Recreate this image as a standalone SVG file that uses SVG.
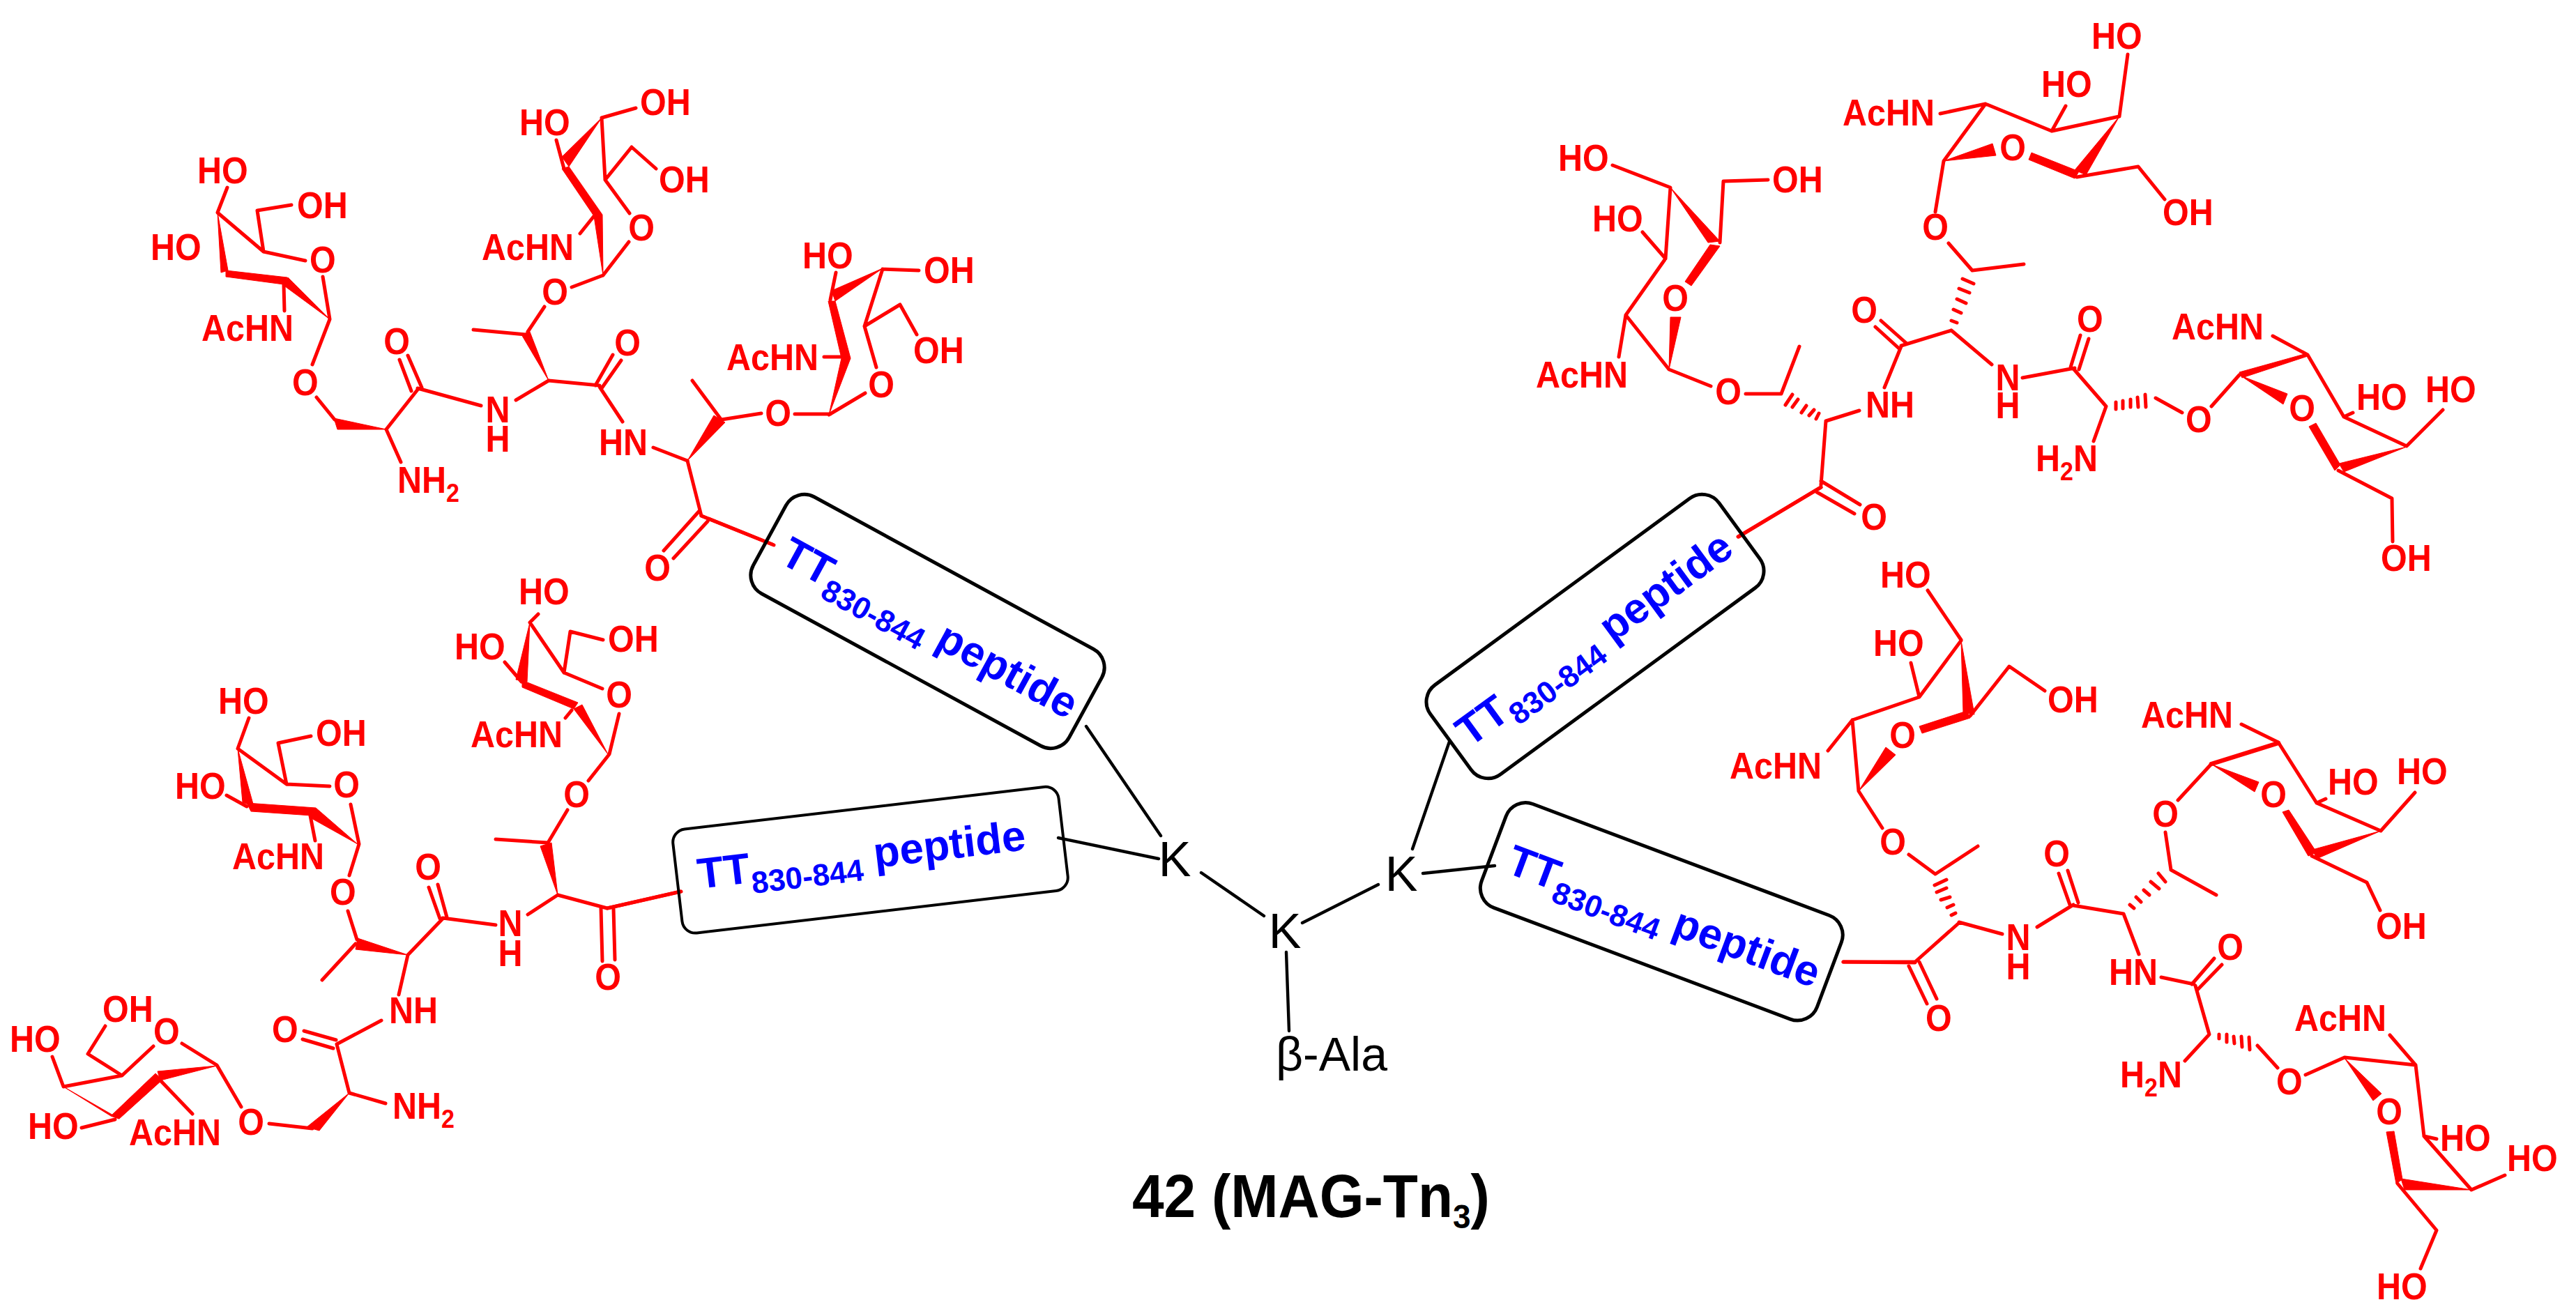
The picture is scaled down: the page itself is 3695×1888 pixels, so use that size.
<svg xmlns="http://www.w3.org/2000/svg" width="3695" height="1888" viewBox="0 0 3695 1888">
<style>
text{font-family:"Liberation Sans",Arial,sans-serif}
.b{fill:none;stroke:#f00;stroke-width:5;stroke-linecap:round;stroke-linejoin:round}
.w{fill:#f00;stroke:#f00;stroke-width:1;stroke-linejoin:round}
.t{fill:#f00;font-weight:700;font-size:48.5px;transform-box:fill-box;transform-origin:0 100%;transform:scaleY(1.1)}
.m{text-anchor:middle}
.box{fill:none;stroke:#000;stroke-width:5}
.pep{fill:#00f;font-weight:700;font-size:61.7px}
.sub{font-size:44px}
.s2{font-size:34px}
.c{fill:none;stroke:#000;stroke-width:4.4;stroke-linecap:round}
.cr{fill:none;stroke:#f00;stroke-width:5;stroke-linecap:round}
.k{fill:#000;font-size:70px}
</style>
<rect width="3695" height="1888" fill="#fff"/>

<g id="connectors">
<path class="c" d="M1558 1042L1665 1199M1518 1202L1662 1232M1723 1252L1813 1314M1868 1324L1977 1269M2026 1218L2079 1064M2041 1253L2144 1242M1845 1366L1849 1479"/>
</g>

<g id="glycopeptide-upper-left">
<path class="b" d="M326 269L312 305L378 361L369 302L418 294M378 361L438 374M407 408L408 446M463 397L473 458L448 523M454 570L480 602M554 616L599 559M554 616L575 663M590 561L573 516M605 556L585 510M599 557L690 582M740 574L787 546M754 480L679 473M757 476L781 440M787 546L860 553M854 553L879 509M863 557L891 517M860 555L893 605M937 642L986 661M798 201L809 242M863 169L912 155M863 169L868 258L906 211L941 242M868 258L903 306M852 310L832 335M865 395L902 347M865 395L820 412"/>
<path class="b" d="M1199 391L1191 430M1266 386L1318 388M1266 386L1240 468L1291 437L1315 480M1240 468L1257 527M1182 512L1209 512M1189 595L1241 564M1140 594L1191 594M1092 593L1035 602M1033 600L993 546M986 661L1006 740M1004 732L952 790M1015 748L966 801M1006 740L1108 781"/>
<polygon class="w" points="312,305 317,391 327,388"/>
<polygon class="w" points="324,388 412,398 407,408 324,397"/>
<polygon class="w" points="473,458 413,398 405,408"/>
<polygon class="w" points="554,616 479,600 484,616"/>
<polygon class="w" points="787,546 748,480 760,476"/>
<polygon class="w" points="986,661 1024,596 1040,606"/>
<polygon class="w" points="863,169 806,225 816,239"/>
<polygon class="w" points="806,242 816,239 864,308 852,310"/>
<polygon class="w" points="865,395 852,310 864,308"/>
<polygon class="w" points="1266,385 1193,417 1198,432"/>
<polygon class="w" points="1188,432 1198,432 1220,514 1207,514"/>
<polygon class="w" points="1189,595 1207,514 1220,514"/>
<text class="t" x="283" y="264">HO</text>
<text class="t" x="426" y="314">OH</text>
<text class="t" x="216" y="374">HO</text>
<text class="t m" x="463" y="392">O</text>
<text class="t" x="289" y="490">AcHN</text>
<text class="t m" x="438" y="568">O</text>
<text class="t m" x="569" y="509">O</text>
<text class="t m" x="714" y="611">N<tspan x="714" dy="38">H</tspan></text>
<text class="t m" x="900" y="511">O</text>
<text class="t" x="859" y="654">HN</text>
<text class="t" x="570" y="709">NH<tspan class="s2" dy="12">2</tspan></text>
<text class="t" x="691" y="374">AcHN</text>
<text class="t" x="745" y="195">HO</text>
<text class="t" x="918" y="166">OH</text>
<text class="t" x="945" y="277">OH</text>
<text class="t m" x="920" y="346">O</text>
<text class="t m" x="796" y="438">O</text>
<text class="t" x="1151" y="386">HO</text>
<text class="t" x="1325" y="407">OH</text>
<text class="t" x="1310" y="522">OH</text>
<text class="t" x="1042" y="532">AcHN</text>
<text class="t m" x="1264" y="571">O</text>
<text class="t m" x="1116" y="612">O</text>
<text class="t m" x="943" y="834">O</text>
</g>

<g id="glycopeptide-lower-left">
<path class="b" d="M772 881L760 893L809 965L818 906L865 918M809 965L864 988M724 950L748 978M820 1019L811 1030M888 1024L874 1082L844 1120M814 1162L786 1209L711 1204M800 1284L757 1312M800 1284L871 1303L976 1279M862 1303L864 1379M880 1303L882 1377M357 1030L341 1074L411 1125L399 1066L446 1056M411 1125L473 1128M325 1141L354 1157M445 1170L452 1206M503 1154L515 1211L501 1256M499 1307L512 1348M510 1354L462 1406M585 1370L635 1318M585 1370L572 1427M631 1318L615 1273M641 1316L628 1269M635 1317L711 1327M547 1464L483 1498M482 1492L436 1479M478 1504L434 1491M483 1498L501 1568L553 1583M448 1619L386 1612M346 1588L311 1528L261 1497M220 1501L175 1543L126 1512L151 1472M175 1543L91 1559L75 1516M230 1550L276 1598M165 1606L117 1618"/>
<polygon class="w" points="760,893 740,975 756,978"/>
<polygon class="w" points="749,976 829,1008 823,1017 749,986"/>
<polygon class="w" points="872,1082 835,1011 823,1017"/>
<polygon class="w" points="800,1284 775,1214 791,1209"/>
<polygon class="w" points="341,1074 348,1151 364,1157"/>
<polygon class="w" points="354,1152 453,1159 447,1170 360,1164"/>
<polygon class="w" points="513,1211 453,1159 445,1173"/>
<polygon class="w" points="585,1370 513,1346 510,1362"/>
<polygon class="w" points="501,1568 440,1617 458,1622"/>
<polygon class="w" points="311,1529 226,1537 230,1550"/>
<polygon class="w" points="223,1540 233,1549 171,1605 159,1601"/>
<polygon class="w" points="91,1559 159,1601 171,1605"/>
<text class="t" x="744" y="868">HO</text>
<text class="t" x="652" y="947">HO</text>
<text class="t" x="872" y="936">OH</text>
<text class="t m" x="888" y="1016">O</text>
<text class="t" x="675" y="1073">AcHN</text>
<text class="t m" x="827" y="1159">O</text>
<text class="t" x="313" y="1025">HO</text>
<text class="t" x="453" y="1071">OH</text>
<text class="t" x="251" y="1147">HO</text>
<text class="t m" x="497" y="1145">O</text>
<text class="t" x="333" y="1248">AcHN</text>
<text class="t m" x="492" y="1299">O</text>
<text class="t m" x="614" y="1263">O</text>
<text class="t m" x="732" y="1348">N<tspan x="732" dy="39">H</tspan></text>
<text class="t m" x="872" y="1421">O</text>
<text class="t" x="558" y="1469">NH</text>
<text class="t m" x="409" y="1496">O</text>
<text class="t" x="147" y="1467">OH</text>
<text class="t m" x="239" y="1499">O</text>
<text class="t" x="14" y="1510">HO</text>
<text class="t" x="40" y="1635">HO</text>
<text class="t" x="185" y="1644">AcHN</text>
<text class="t m" x="360" y="1629">O</text>
<text class="t" x="563" y="1607">NH<tspan class="s2" dy="12">2</tspan></text>
</g>

<g id="glycopeptide-upper-right">
<path class="b" d="M3052 78L3040 167M2963 152L2943 188M2848 149L2943 188L3040 167M2783 163L2848 149L2788 231L2776 304M2979 254L3067 239L3105 286M2795 349L2829 388L2903 379M2815 400L2831 407M2810 414L2825 420M2807 429L2820 435M2802 444L2813 449M2799 460L2807 463M2799 474L2727 496M2799 474L2857 523M2734 492L2698 460M2724 500L2690 469M2727 497L2703 556M2901 542L2976 528M2970 527L2984 481M2982 530L2996 486M2975 530L3021 583L3003 633M3035 577L3035 587M3045 575L3045 586M3056 573L3056 584M3066 570L3067 584M3077 566L3078 584M3092 571L3130 592M3172 583L3212 538M3260 482L3310 509M3310 509L3362 598L3375 592M3362 598L3452 640L3504 588M3354 675L3431 715L3432 777M2313 237L2396 269L2389 371M2467 348L2472 260L2536 258M2356 333L2389 371L2332 452L2322 512M2332 452L2394 530L2454 554M2504 565L2555 565L2581 497M2571 566L2561 581M2579 573L2571 584M2591 582L2584 592M2602 588L2595 596M2609 593L2605 601M2619 604L2667 589M2619 604L2612 696M2612 699L2494 770M2612 690L2668 724M2606 706L2660 737"/>
<polygon class="w" points="2788,231 2858,206 2863,223"/>
<polygon class="w" points="2914,219 2982,246 2976,256 2910,229"/>
<polygon class="w" points="3040,167 2976,244 2992,251"/>
<polygon class="w" points="3212,534 3309,507 3310,511 3216,542"/>
<polygon class="w" points="3214,539 3281,565 3275,580"/>
<polygon class="w" points="3312,612 3322,607 3357,667 3349,675"/>
<polygon class="w" points="3452,641 3355,665 3362,677"/>
<polygon class="w" points="2396,269 2450,348 2467,346"/>
<polygon class="w" points="2453,351 2467,353 2426,410 2417,404"/>
<polygon class="w" points="2394,530 2396,455 2411,455"/>
<text class="t" x="3000" y="71">HO</text>
<text class="t" x="2928" y="140">HO</text>
<text class="t" x="2643" y="181">AcHN</text>
<text class="t m" x="2887" y="231">O</text>
<text class="t" x="3102" y="324">OH</text>
<text class="t" x="2235" y="246">HO</text>
<text class="t" x="2542" y="277">OH</text>
<text class="t" x="2284" y="333">HO</text>
<text class="t m" x="2403" y="447">O</text>
<text class="t m" x="2776" y="345">O</text>
<text class="t" x="2203" y="557">AcHN</text>
<text class="t m" x="2479" y="581">O</text>
<text class="t m" x="2674" y="464">O</text>
<text class="t m" x="2998" y="477">O</text>
<text class="t" x="2676" y="600">NH</text>
<text class="t m" x="2880" y="565">N<tspan x="2880" dy="36">H</tspan></text>
<text class="t" x="2920" y="678">H<tspan class="s2" dy="12">2</tspan><tspan dy="-12">N</tspan></text>
<text class="t m" x="2688" y="761">O</text>
<text class="t m" x="3154" y="621">O</text>
<text class="t" x="3115" y="488">AcHN</text>
<text class="t m" x="3302" y="605">O</text>
<text class="t" x="3380" y="589">HO</text>
<text class="t" x="3479" y="578">HO</text>
<text class="t" x="3415" y="820">OH</text>
</g>

<g id="glycopeptide-lower-right">
<path class="b" d="M2765 847L2813 918M2741 951L2753 1000M2813 919L2753 1000L2657 1033M2826 1027L2882 956L2933 991M2657 1033L2622 1077M2657 1033L2666 1135L2700 1188M2738 1226L2776 1254L2837 1214M2775 1270L2792 1262M2778 1280L2792 1274M2784 1291L2797 1287M2793 1302L2802 1298M2799 1313L2805 1310M2810 1323L2872 1340M2810 1324L2747 1380L2644 1380M2738 1386L2764 1440M2753 1380L2778 1433M2922 1330L2974 1298M2969 1298L2953 1253M2981 1295L2966 1249M2974 1299L3046 1311L3068 1369M3106 1265L3096 1253M3097 1275L3085 1265M3083 1284L3075 1277M3071 1294L3064 1287M3061 1303L3055 1298M3114 1248L3106 1194M3114 1248L3179 1284M3124 1148L3172 1096M3215 1039L3268 1065L3323 1152L3336 1146M3323 1152L3415 1192L3464 1137M3316 1228L3395 1266L3414 1306M3134 1522L3169 1484L3149 1414M3100 1402L3147 1412M3144 1412L3176 1375M3152 1420L3187 1384M3183 1484L3183 1490M3194 1484L3194 1495M3204 1487L3205 1497M3215 1487L3216 1502M3226 1488L3227 1506M3238 1500L3267 1532M3307 1542L3363 1517L3465 1528M3428 1485L3465 1528L3477 1630L3495 1634M3477 1630L3545 1707L3593 1686M3439 1698L3495 1765L3472 1820"/>
<path class="b" style="stroke-width:6.5" d="M3172 1096L3268 1066"/>
<polygon class="w" points="2813,919 2816,1022 2832,1025"/>
<polygon class="w" points="2753,1042 2821,1020 2826,1030 2757,1052"/>
<polygon class="w" points="2666,1135 2705,1072 2719,1083"/>
<polygon class="w" points="3173,1097 3240,1122 3234,1136"/>
<polygon class="w" points="3274,1165 3283,1162 3323,1223 3311,1228"/>
<polygon class="w" points="3415,1192 3317,1219 3323,1232"/>
<polygon class="w" points="3363,1518 3416,1569 3404,1579"/>
<polygon class="w" points="3423,1624 3434,1623 3446,1692 3437,1698"/>
<polygon class="w" points="3545,1707 3444,1691 3449,1707"/>
<text class="t" x="2697" y="844">HO</text>
<text class="t" x="2687" y="942">HO</text>
<text class="t" x="2937" y="1023">OH</text>
<text class="t m" x="2729" y="1074">O</text>
<text class="t" x="2481" y="1118">AcHN</text>
<text class="t m" x="2715" y="1227">O</text>
<text class="t m" x="2781" y="1480">O</text>
<text class="t m" x="2895" y="1368">N<tspan x="2895" dy="38">H</tspan></text>
<text class="t m" x="2950" y="1244">O</text>
<text class="t" x="3071" y="1045">AcHN</text>
<text class="t m" x="3106" y="1187">O</text>
<text class="t m" x="3261" y="1159">O</text>
<text class="t" x="3339" y="1141">HO</text>
<text class="t" x="3025" y="1414">HN</text>
<text class="t m" x="3199" y="1378">O</text>
<text class="t" x="3438" y="1126">HO</text>
<text class="t" x="3408" y="1348">OH</text>
<text class="t" x="3041" y="1562">H<tspan class="s2" dy="12">2</tspan><tspan dy="-12">N</tspan></text>
<text class="t" x="3291" y="1480">AcHN</text>
<text class="t m" x="3284" y="1571">O</text>
<text class="t m" x="3427" y="1614">O</text>
<text class="t" x="3500" y="1652">HO</text>
<text class="t" x="3596" y="1681">HO</text>
<text class="t" x="3409" y="1865">HO</text>
</g>

<g id="peptide-1">
<path class="cr" d="M1006 740L1110 782"/>
<rect class="box" x="-258" y="-79" width="516" height="158" rx="30" transform="translate(1330.5 891.5) rotate(28.6)"/>
<text class="pep" transform="translate(1116 806) rotate(28.6)">TT<tspan class="sub" dy="16">830-844</tspan><tspan dy="-16"> peptide</tspan></text>
</g>
<g id="peptide-2">
<path class="cr" d="M871 1303L977 1279"/>
<rect class="box" style="stroke-width:4" x="-278.5" y="-75" width="557" height="150" rx="19" transform="translate(1248.5 1233.7) rotate(-6.7)"/>
<text class="pep" transform="translate(1003 1275) rotate(-6.8)">TT<tspan class="sub" dy="16">830-844</tspan><tspan dy="-16"> peptide</tspan></text>
</g>
<g id="peptide-3">
<path class="cr" d="M2612 699L2493 770"/>
<rect class="box" x="-256.5" y="-79.5" width="513" height="159" rx="30" transform="translate(2288 913) rotate(-36.2)"/>
<text class="pep" transform="translate(2108 1073) rotate(-36.2)">TT<tspan class="sub" dy="16">830-844</tspan><tspan dy="-16"> peptide</tspan></text>
</g>
<g id="peptide-4">
<path class="cr" d="M2747 1381L2644 1380"/>
<rect class="box" x="-257" y="-79.5" width="514" height="159" rx="30" transform="translate(2383.3 1307.8) rotate(20.6)"/>
<text class="pep" transform="translate(2158 1251) rotate(20.6)">TT<tspan class="sub" dy="16">830-844</tspan><tspan dy="-16"> peptide</tspan></text>
</g>

<g id="k-1"><text class="k m" x="1685" y="1257">K</text></g>
<g id="k-2"><text class="k m" x="1843" y="1360">K</text></g>
<g id="k-3"><text class="k m" x="2010" y="1278">K</text></g>
<g id="beta-ala"><text class="k" style="font-size:68px" x="1830" y="1536">β-Ala</text></g>
<g id="title"><text transform="translate(1624 1746) scale(1 1.06)" font-weight="700" font-size="82" fill="#000">42 (MAG-Tn<tspan font-size="46" dy="15">3</tspan><tspan dy="-15">)</tspan></text></g>
</svg>
